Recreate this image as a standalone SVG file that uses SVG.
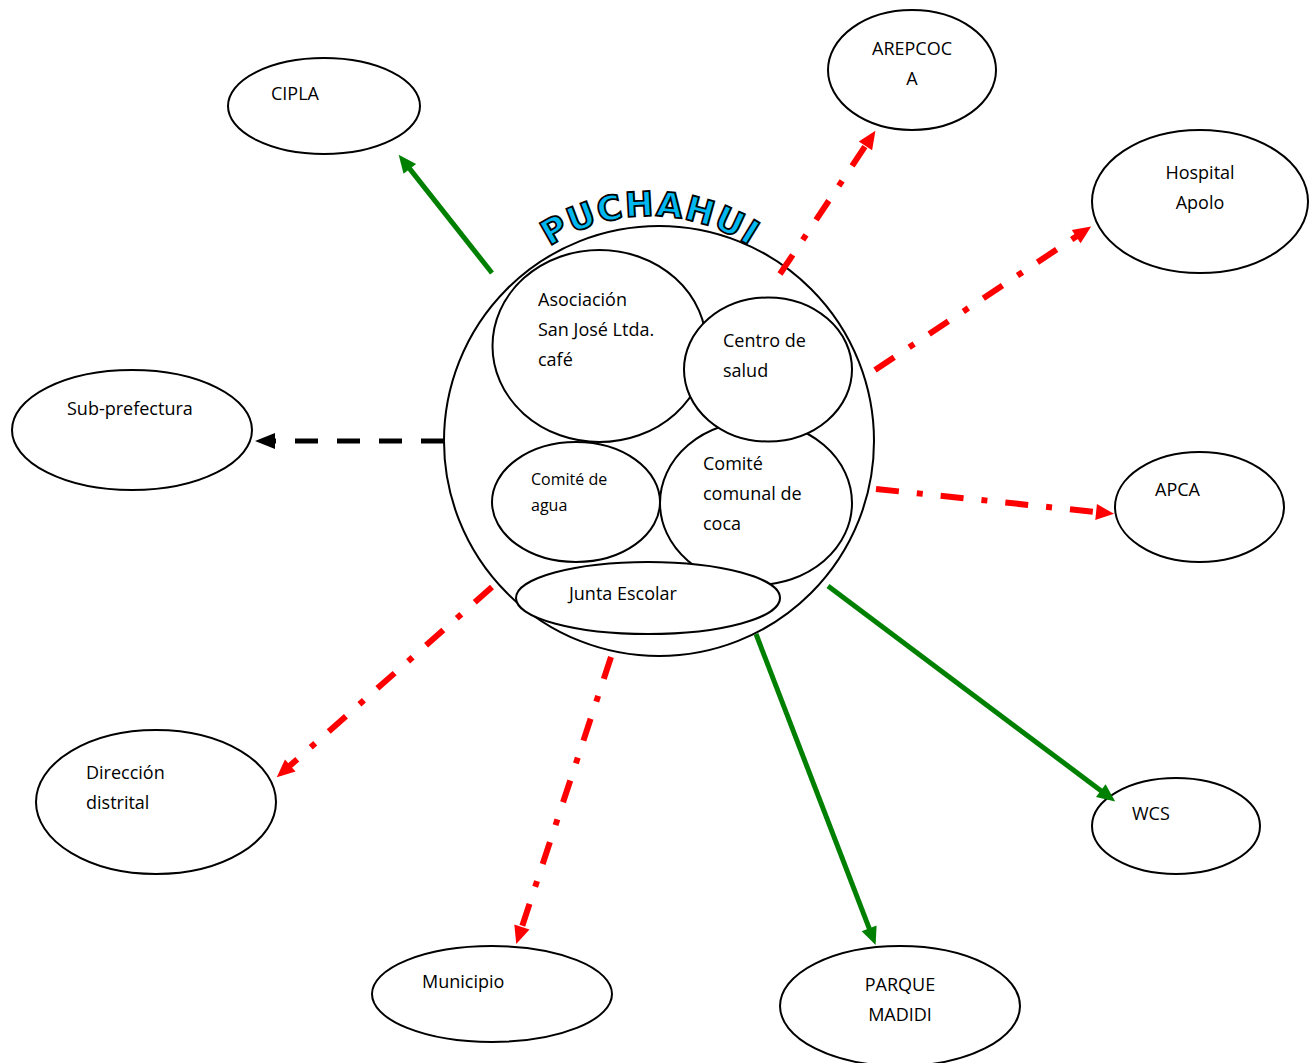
<svg xmlns="http://www.w3.org/2000/svg" width="1312" height="1063" viewBox="0 0 1312 1063">
<style>
.n{fill:#fff;stroke:#000;stroke-width:2}
.t{font-family:"Open Sans","Noto Sans",sans-serif;font-size:18px;fill:#000}
.s{font-size:16px}
.c{text-anchor:middle}
.g{fill:none;stroke:#008000;stroke-width:5}
.r{fill:none;stroke:#ff0000;stroke-width:6;stroke-dasharray:23 18 6 18}
.k{fill:none;stroke:#000;stroke-width:5;stroke-dasharray:23 19}
.title{font-family:"DejaVu Sans",sans-serif;font-weight:bold;font-size:34px;fill:#00b8f0;stroke:#000;stroke-width:1.8;letter-spacing:1.5px}
</style>
<defs>
<marker id="ar" markerUnits="userSpaceOnUse" markerWidth="18" markerHeight="16" refX="1" refY="8" orient="auto" overflow="visible"><path d="M0,0 L18,8 L0,16 z" fill="#ff0000"/></marker>
<marker id="ag" markerUnits="userSpaceOnUse" markerWidth="18" markerHeight="16" refX="1" refY="8" orient="auto" overflow="visible"><path d="M0,0 L18,8 L0,16 z" fill="#008000"/></marker>
<marker id="ak" markerUnits="userSpaceOnUse" markerWidth="20" markerHeight="16" refX="1" refY="8" orient="auto" overflow="visible"><path d="M0,0 L20,8 L0,16 z" fill="#000"/></marker>
<path id="arc" d="M522.7,268.7 A180,180 0 0,1 777.3,268.7"/>
</defs>

<g id="puchahui">
<circle class="n" cx="659" cy="441" r="215"/>
<text class="title"><textPath href="#arc" startOffset="50%" text-anchor="middle">PUCHAHUI</textPath></text>
</g>
<g id="asociacion">
<ellipse class="n" cx="599.5" cy="346" rx="107" ry="96"/>
<text class="t" x="538" y="306">Asociación</text>
<text class="t" x="538" y="336">San José Ltda.</text>
<text class="t" x="538" y="366">café</text>
</g>
<g id="comite-agua">
<ellipse class="n" cx="576" cy="502" rx="84" ry="60"/>
<text class="t s" x="531" y="485">Comité de</text>
<text class="t s" x="531" y="511">agua</text>
</g>
<g id="comite-coca">
<ellipse class="n" cx="756" cy="503" rx="96" ry="82"/>
<text class="t" x="703" y="470">Comité</text>
<text class="t" x="703" y="500">comunal de</text>
<text class="t" x="703" y="530">coca</text>
</g>
<g id="centro-salud">
<ellipse class="n" cx="768" cy="369.5" rx="84" ry="72"/>
<text class="t" x="723" y="347">Centro de</text>
<text class="t" x="723" y="377">salud</text>
</g>
<g id="junta-escolar">
<ellipse class="n" cx="648" cy="598" rx="132" ry="36"/>
<text class="t" x="569" y="600">Junta Escolar</text>
</g>

<g id="cipla">
<ellipse class="n" cx="324" cy="106" rx="96" ry="48"/>
<text class="t" x="271" y="100">CIPLA</text>
</g>
<g id="arepcoca">
<ellipse class="n" cx="912" cy="70" rx="84" ry="60"/>
<text class="t c" x="912" y="55">AREPCOC</text>
<text class="t c" x="912" y="85">A</text>
</g>
<g id="hospital-apolo">
<ellipse class="n" cx="1200" cy="201.5" rx="108" ry="71.5"/>
<text class="t c" x="1200" y="179">Hospital</text>
<text class="t c" x="1200" y="209">Apolo</text>
</g>
<g id="sub-prefectura">
<ellipse class="n" cx="132" cy="430" rx="120" ry="60"/>
<text class="t" x="67" y="415">Sub-prefectura</text>
</g>
<g id="apca">
<ellipse class="n" cx="1199.5" cy="507" rx="84.5" ry="55"/>
<text class="t" x="1155" y="496">APCA</text>
</g>
<g id="direccion-distrital">
<ellipse class="n" cx="156" cy="802" rx="120" ry="72"/>
<text class="t" x="86" y="779">Dirección</text>
<text class="t" x="86" y="809">distrital</text>
</g>
<g id="wcs">
<ellipse class="n" cx="1176" cy="826" rx="84" ry="48"/>
<text class="t" x="1132" y="820">WCS</text>
</g>
<g id="municipio">
<ellipse class="n" cx="492" cy="994" rx="120" ry="48"/>
<text class="t" x="422" y="988">Municipio</text>
</g>
<g id="parque-madidi">
<ellipse class="n" cx="900" cy="1006" rx="120" ry="60"/>
<text class="t c" x="900" y="991">PARQUE</text>
<text class="t c" x="900" y="1021">MADIDI</text>
</g>

<g id="connectors">
<path class="g" d="M492,273 L409.2,168.1" marker-end="url(#ag)"/>
<path class="r" d="M780,274 L866,145" marker-end="url(#ar)"/>
<path class="r" d="M875,370 L1077,236" marker-end="url(#ar)"/>
<path class="k" d="M444,441 L274,441" marker-end="url(#ak)"/>
<path class="r" d="M876,489 L1097.1,512.1" marker-end="url(#ar)"/>
<path class="r" d="M492,587 L289.5,766.1" marker-end="url(#ar)"/>
<path class="r" d="M611,657 L521.6,927.9" marker-end="url(#ar)"/>
<path class="g" d="M756,634 L869.5,929.2" marker-end="url(#ag)"/>
<path class="g" d="M828,586 L1101.6,791.2" marker-end="url(#ag)"/>
</g>
</svg>
